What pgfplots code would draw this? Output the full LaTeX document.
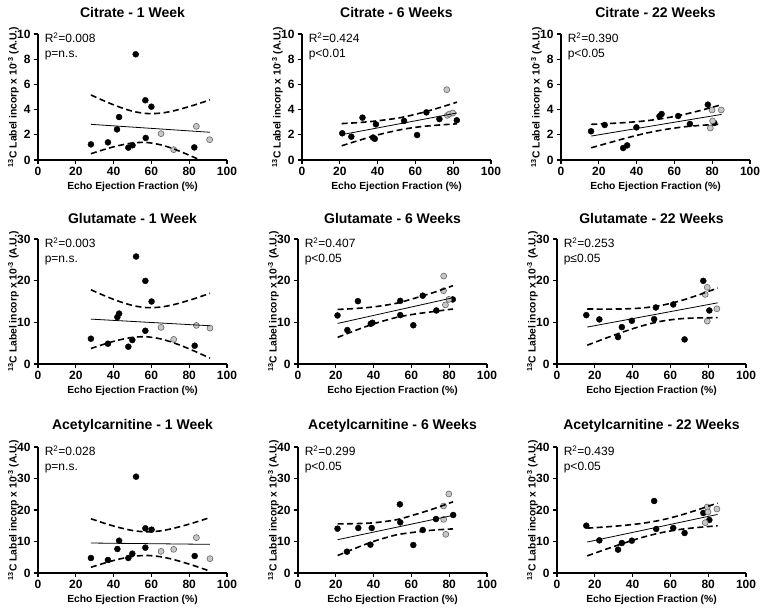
\documentclass[border=0pt]{standalone}
\usepackage{fontspec}
\setmainfont{Liberation Sans}
\usepackage{pgfplots}
\pgfplotsset{compat=1.18}
\pgfplotsset{
 panel/.style={
  scale only axis, width=189pt, height=126pt, xmin=0, xmax=100, ymin=0,
  axis x line=bottom, axis y line=left, axis line style={-, line width=1.3pt},
  xtick={0,20,40,60,80,100},
  tick align=outside, major tick length=4pt, tick style={line width=1.2pt, black},
  tick label style={font=\bfseries\fontsize{12}{13}\selectfont},
  /pgf/number format/assume math mode=true,
  xlabel={Echo Ejection Fraction (\%)},
  ylabel={\textsuperscript{13}C Label incorp x 10\textsuperscript{-3} (A.U.)},
  label style={font=\bfseries\fontsize{10.3}{11}\selectfont},
  xlabel style={at={(axis description cs:0.5,-0.214)}, anchor=center},
  ylabel style={at={(axis description cs:-0.13,0.5)}, anchor=center},
 },
 blackpts/.style={only marks, mark=*, mark size=3pt, mark options={fill=black, draw=black}},
 graypts/.style={only marks, mark=*, mark size=3pt, mark options={fill=black!22, draw=black!60, line width=0.6pt}},
 fitline/.style={black, line width=0.8pt},
 band/.style={black, line width=1.6pt, smooth, dash pattern=on 6pt off 3.5pt},
}
\newcommand{\stats}[2]{\node[anchor=north west, align=left, font=\fontsize{12}{15}\selectfont, inner sep=0pt] at (axis description cs:0.035,1.01) {R\textsuperscript{2}=#1\\#2};}
\newcommand{\ptitle}[1]{\node[anchor=center, font=\bfseries\fontsize{14}{15}\selectfont, inner sep=0pt] at (axis description cs:0.5,1.167) {#1};}
\begin{document}
\begin{tikzpicture}
\path[use as bounding box] (0pt,0pt) rectangle (765pt,611pt);
% ---------- Row 1: Citrate ----------
\begin{axis}[panel, at={(38pt,451pt)}, anchor=south west, ymax=10, ytick={0,2,4,6,8,10}, clip mode=individual]
\addplot[blackpts] coordinates {(28,1.24)(37,1.40)(41.8,2.43)(42.9,3.41)(47.8,0.98)(50,1.17)(51.7,8.39)(56.8,4.74)(57,1.75)(60,4.23)(82.7,1.0)};
\addplot[graypts] coordinates {(65.1,2.09)(71.8,0.82)(83.8,2.67)(90.8,1.61)};
\addplot[fitline] coordinates {(28,2.83)(91,2.20)};
\addplot[band] coordinates {(28,5.16)(35,4.69)(42,4.26)(50,3.87)(57.5,3.69)(65,3.72)(72,3.91)(80,4.24)(86,4.52)(91,4.77)};
\addplot[band] coordinates {(28,0.50)(35,0.83)(42,1.12)(50,1.35)(57.5,1.39)(65,1.20)(72,0.87)(80,0.38)(86,-0.02)(91,-0.37)};
\stats{0.008}{p=n.s.}
\ptitle{Citrate - 1 Week}
\end{axis}
\begin{axis}[panel, at={(302pt,451pt)}, anchor=south west, ymax=10, ytick={0,2,4,6,8,10}, clip mode=individual]
\addplot[blackpts] coordinates {(21.3,2.12)(26.1,1.85)(32,3.36)(37.6,1.78)(38.5,1.68)(39.1,2.83)(54,3.10)(60.9,1.98)(65.8,3.78)(72.7,3.25)(81.9,3.15)};
\addplot[graypts] coordinates {(76.6,5.58)(76.9,3.54)(78,3.65)(79.8,3.73)};
\addplot[fitline] coordinates {(21,2.01)(82,3.73)};
\addplot[band] coordinates {(21,2.89)(30,2.97)(40,3.11)(52,3.36)(62,3.70)(72,4.12)(82,4.59)};
\addplot[band] coordinates {(21,1.13)(30,1.55)(40,1.99)(52,2.40)(62,2.63)(72,2.77)(82,2.87)};
\stats{0.424}{p<0.01}
\ptitle{Citrate - 6 Weeks}
\end{axis}
\begin{axis}[panel, at={(561pt,451pt)}, anchor=south west, ymax=10, ytick={0,2,4,6,8,10}, clip mode=individual]
\addplot[blackpts] coordinates {(15.9,2.28)(23.1,2.78)(32.9,0.95)(35,1.16)(39.9,2.59)(52.1,3.47)(53.2,3.65)(62,3.49)(68.2,2.86)(77.7,4.39)(81.1,2.94)};
\addplot[graypts] coordinates {(79.9,3.97)(79,2.54)(80.2,3.10)(84.8,3.97)};
\addplot[fitline] coordinates {(16,1.90)(85,3.62)};
\addplot[band] coordinates {(16,2.83)(25,2.89)(35,2.98)(45,3.11)(55,3.32)(65,3.61)(75,3.98)(85,4.39)};
\addplot[band] coordinates {(16,0.97)(25,1.35)(35,1.76)(45,2.13)(55,2.42)(65,2.63)(75,2.76)(85,2.85)};
\stats{0.390}{p<0.05}
\ptitle{Citrate - 22 Weeks}
\end{axis}
% ---------- Row 2: Glutamate ----------
\begin{axis}[panel, at={(38pt,247pt)}, anchor=south west, height=125pt, ymax=30, ytick={0,10,20,30}, clip mode=individual]
\addplot[blackpts] coordinates {(28,6.07)(37,4.87)(42,11.25)(42.9,12.1)(47.8,4.15)(49.9,5.75)(51.9,25.8)(56.8,19.95)(56.8,7.98)(60.1,15.0)(82.9,4.39)};
\addplot[graypts] coordinates {(65.1,8.78)(71.8,5.9)(83.8,9.26)(91,8.62)};
\addplot[fitline] coordinates {(28,10.77)(91,9.18)};
\addplot[band] coordinates {(28,17.82)(35,16.42)(42,15.17)(50,14.05)(57.5,13.53)(65,13.67)(72,14.27)(80,15.29)(86,16.18)(91,16.96)};
\addplot[band] coordinates {(28,3.72)(35,4.76)(42,5.67)(50,6.39)(57.5,6.53)(65,6.01)(72,5.05)(80,3.63)(86,2.44)(91,1.40)};
\stats{0.003}{p=n.s.}
\ptitle{Glutamate - 1 Week}
\end{axis}
\begin{axis}[panel, at={(298pt,247pt)}, anchor=south west, height=125pt, ymax=30, ytick={0,10,20,30}, clip mode=individual]
\addplot[blackpts] coordinates {(20.9,11.65)(26.1,8.14)(31.7,15.08)(38.5,9.66)(39.4,9.9)(54.1,15.16)(54.1,11.73)(61,9.3)(66,16.4)(73.2,12.85)(81.9,15.5)};
\addplot[graypts] coordinates {(77.1,21.1)(77,17.6)(79.8,15.5)(78,14.2)};
\addplot[fitline] coordinates {(21,9.74)(82,15.9)};
\addplot[band] coordinates {(21,13.09)(30,13.31)(40,13.70)(52,14.57)(62,15.82)(72,17.2)(82,18.8)};
\addplot[band] coordinates {(21,6.39)(30,7.99)(40,9.62)(52,11.17)(62,12.0)(72,12.6)(82,13.2)};
\stats{0.407}{p<0.05}
\ptitle{Glutamate - 6 Weeks}
\end{axis}
\begin{axis}[panel, at={(557pt,247pt)}, anchor=south west, height=125pt, ymax=30, ytick={0,10,20,30}, clip mode=individual]
\addplot[blackpts] coordinates {(15.5,11.73)(22.4,10.7)(32.3,6.46)(34.3,8.86)(39.6,10.37)(51.4,10.77)(52.3,13.57)(61.5,14.29)(67.5,5.9)(77.4,19.95)(80.6,12.85)};
\addplot[graypts] coordinates {(78.4,16.7)(79.5,18.4)(79.5,10.3)(84.6,13.25)};
\addplot[fitline] coordinates {(16,8.86)(85,14.68)};
\addplot[band] coordinates {(16,13.21)(25,13.18)(35,13.22)(45,13.44)(55,14.05)(65,15.13)(75,16.59)(85,18.24)};
\addplot[band] coordinates {(16,4.51)(25,6.06)(35,7.70)(45,9.16)(55,10.25)(65,10.85)(75,11.07)(85,11.12)};
\stats{0.253}{p≤0.05}
\ptitle{Glutamate - 22 Weeks}
\end{axis}
% ---------- Row 3: Acetylcarnitine ----------
\begin{axis}[panel, at={(38pt,38pt)}, anchor=south west, ymax=40, ytick={0,10,20,30,40}, clip mode=individual]
\addplot[blackpts] coordinates {(28,4.76)(37,4.13)(42,7.62)(42.9,10.26)(47.8,4.76)(49.9,6.14)(51.9,30.58)(56.8,14.18)(56.8,8.04)(60.1,13.76)(82.9,5.4)};
\addplot[graypts] coordinates {(65.1,6.88)(71.8,7.51)(83.8,11.22)(91,4.55)};
\addplot[fitline] coordinates {(28,9.52)(91,9.10)};
\addplot[band] coordinates {(28,17.22)(35,15.82)(42,14.58)(50,13.49)(57.5,13.07)(65,13.39)(72,14.23)(80,15.52)(86,16.63)(91,17.61)};
\addplot[band] coordinates {(28,1.82)(35,3.12)(42,4.28)(50,5.25)(57.5,5.57)(65,5.15)(72,4.23)(80,2.82)(86,1.63)(91,0.59)};
\stats{0.028}{p=n.s.}
\ptitle{Acetylcarnitine - 1 Week}
\end{axis}
\begin{axis}[panel, at={(298pt,38pt)}, anchor=south west, ymax=40, ytick={0,10,20,30,40}, clip mode=individual]
\addplot[blackpts] coordinates {(20.9,14.07)(25.9,6.77)(31.9,14.29)(38.3,8.99)(39,14.29)(53.9,21.8)(54.1,16.08)(61,8.89)(66,13.65)(73,17.14)(82.1,18.41)};
\addplot[graypts] coordinates {(79.8,25.1)(77,21.27)(77.1,17.04)(78.2,12.28)};
\addplot[fitline] coordinates {(21,10.58)(82,18.30)};
\addplot[band] coordinates {(21,15.61)(30,15.67)(40,15.94)(52,16.90)(62,18.56)(72,20.44)(82,22.6)};
\addplot[band] coordinates {(21,5.55)(30,7.77)(40,10.04)(52,12.10)(62,12.98)(72,13.64)(82,14.0)};
\stats{0.299}{p<0.05}
\ptitle{Acetylcarnitine - 6 Weeks}
\end{axis}
\begin{axis}[panel, at={(557pt,38pt)}, anchor=south west, ymax=40, ytick={0,10,20,30,40}, clip mode=individual]
\addplot[blackpts] coordinates {(15.5,15.03)(22.4,10.37)(32.3,7.41)(34.3,9.52)(39.6,10.26)(51.4,22.86)(52.5,13.97)(61.5,14.29)(67.5,12.7)(77.4,19.05)(80.6,16.83)};
\addplot[graypts] coordinates {(78.4,15.98)(79.5,20.95)(79.9,19.37)(84.6,20.32)};
\addplot[fitline] coordinates {(16,9.84)(85,18.60)};
\addplot[band] coordinates {(16,14.24)(25,14.60)(35,15.09)(45,15.76)(55,16.79)(65,18.30)(75,20.17)(85,22.22)};
\addplot[band] coordinates {(16,5.44)(25,7.36)(35,9.41)(45,11.28)(55,12.79)(65,13.82)(75,14.49)(85,14.98)};
\stats{0.439}{p<0.05}
\ptitle{Acetylcarnitine - 22 Weeks}
\end{axis}
\end{tikzpicture}
\end{document}
